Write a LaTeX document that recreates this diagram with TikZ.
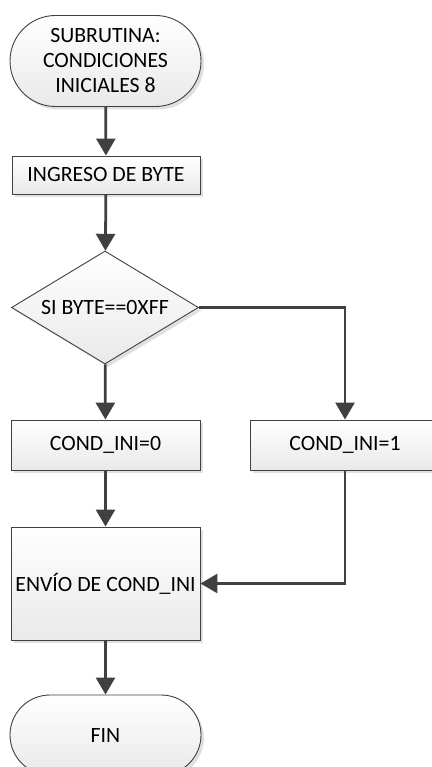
\documentclass[tikz,border=0pt]{standalone}
\usepackage{fontspec}
\setmainfont{Carlito}
\usetikzlibrary{arrows.meta,shapes.geometric,shadows}
\definecolor{edge}{HTML}{404040}
\definecolor{shade}{HTML}{E9E9E9}
\tikzset{
  x=1pt, y=-1pt,
  base/.style={draw=edge, line width=0.9pt, top color=white, bottom color=shade,
    inner sep=0pt, align=center, font=\fontsize{21.8}{25}\selectfont,
    drop shadow={shadow xshift=3pt, shadow yshift=-3pt, fill=black!12, opacity=1}},
  procbox/.style={base, rectangle},
  termbox/.style={base, rectangle, rounded corners=#1},
  decbox/.style={base, diamond},
  flow/.style={draw=edge, line width=2.8pt,
    -{Triangle[width=19pt,length=17pt]}}
}
\begin{document}
\begin{tikzpicture}
\useasboundingbox (0,0) rectangle (431,767);
\node[termbox=45.5pt, minimum width=191pt, minimum height=91pt] (start) at (105.5,61)
  {SUBRUTINA:\\CONDICIONES\\INICIALES 8};
\node[procbox, minimum width=188pt, minimum height=38pt] (ingreso) at (106,175)
  {INGRESO DE BYTE};
\node[decbox, minimum width=187pt, minimum height=113pt, aspect=1.65] (dec) at (105,307.5)
  {SI BYTE==0XFF};
\node[procbox, minimum width=189pt, minimum height=50pt] (cero) at (105.5,445)
  {COND\_INI=0};
\node[procbox, minimum width=190pt, minimum height=50pt] (uno) at (345,445)
  {COND\_INI=1};
\node[procbox, minimum width=189pt, minimum height=113pt] (envio) at (105.5,583.5)
  {ENVÍO DE COND\_INI};
\node[termbox=40pt, minimum width=191pt, minimum height=80pt] (fin) at (105.5,735)
  {FIN};
\draw[flow] (start) -- (ingreso);
\draw[flow] (ingreso) -- (dec);
\draw[flow] (dec) -- (cero);
\draw[flow] (dec.east) -| (uno.north);
\draw[flow] (cero) -- (envio);
\draw[flow] (uno.south) |- (envio.east);
\draw[flow] (envio) -- (fin);
\end{tikzpicture}
\end{document}
